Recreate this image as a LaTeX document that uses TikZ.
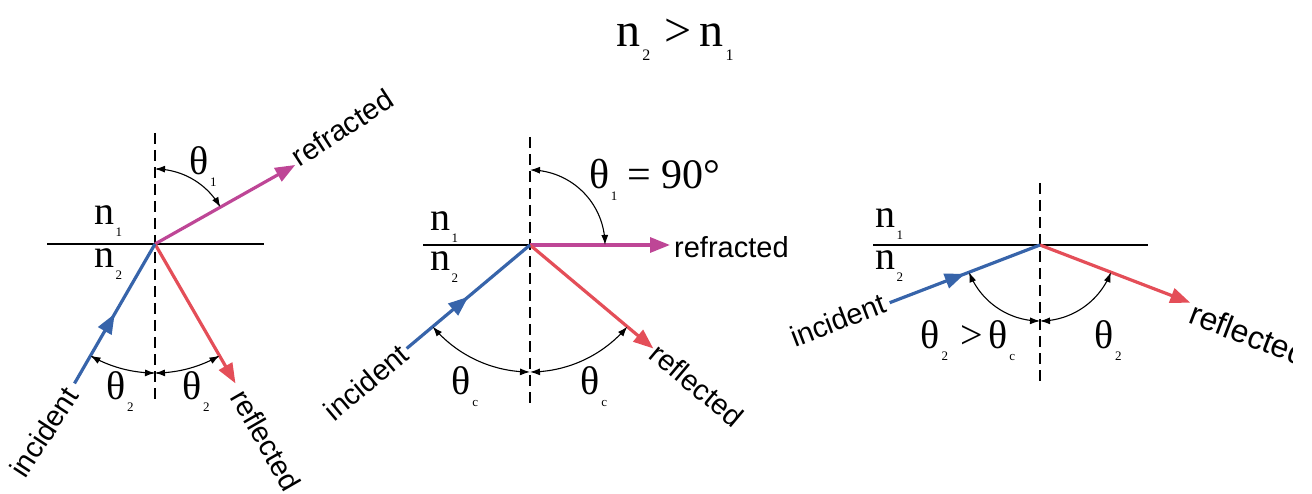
\documentclass[tikz,border=0pt]{standalone}
\usepackage{fontspec}
\setmainfont{Liberation Serif}
\newfontfamily\labelfont{Liberation Sans}
\usetikzlibrary{arrows.meta,decorations.markings,calc}
\definecolor{incblue}{RGB}{55,100,170}
\definecolor{refrmag}{RGB}{190,70,150}
\definecolor{reflred}{RGB}{228,78,88}
\newcommand{\sbs}[1]{\kern1.5pt\raisebox{-0.3em}{\fontsize{13}{13}\selectfont #1}}
\newcommand{\sbt}[1]{\kern2pt\raisebox{-0.3em}{\fontsize{16}{16}\selectfont #1}}
\begin{document}
\begin{tikzpicture}[x=1pt,y=-1pt,
  iface/.style={line width=2pt},
  normline/.style={line width=1.8pt,dash pattern=on 11pt off 6pt},
  ray/.style={line width=3.2pt},
  headtip/.style={-{Triangle[length=20pt,width=15pt]}},
  midtip/.style={postaction={decorate},decoration={markings,mark=at position 0.5 with {\arrow{Triangle[length=20pt,width=15pt]}}}},
  angarc/.style={line width=1.1pt,{Latex[length=10pt,width=7pt]}-{Latex[length=10pt,width=7pt]}},
  mathlab/.style={font=\fontsize{40}{40}\selectfont, inner sep=0pt},
  biglab/.style={font=\fontsize{42}{42}\selectfont, inner sep=0pt},
  titlelab/.style={font=\fontsize{48}{48}\selectfont, inner sep=0pt},
  lab/.style={font=\labelfont\fontsize{29}{29}\selectfont, inner sep=0pt}
]
\useasboundingbox (0,0) rectangle (1312,494);
\clip (0,0) rectangle (1312,494);

% title
\node[titlelab] (title) at (675,40) {n\sbt{2}\kern14pt>\kern8pt n\sbt{1}};

% ---------- panel 1 ----------
\coordinate (O1) at (155,244);
\coordinate (L1) at (47,244);
\coordinate (R1) at (264,244);
\coordinate (T1) at (155,133);
\coordinate (B1) at (155,405);
\coordinate (I1) at ($(O1)+(120:161)$);
\coordinate (F1) at ($(O1)+(-29.4:161)$);
\coordinate (E1) at ($(O1)+(60:161)$);
\draw[iface] (L1) -- (R1);
\draw[normline] (T1) -- (B1);
\draw[ray,refrmag,headtip] (O1) -- (F1);
\draw[ray,reflred,headtip] (O1) -- (E1);
\draw[ray,incblue,midtip] (I1) -- (O1);
\draw[angarc,shift={(O1)}] plot[domain=-90:-29.4,samples=40] (\x:75);
\draw[angarc,shift={(O1)}] plot[domain=120:90,samples=40] (\x:129);
\draw[angarc,shift={(O1)}] plot[domain=90:60,samples=40] (\x:129);
\node[mathlab] (n11) at (108,221) {n\sbs{1}};
\node[mathlab] (n12) at (108,264) {n\sbs{2}};
\node[mathlab] (th11) at (203,167) {θ\sbs{1}};
\node[mathlab] (th12) at (120,392) {θ\sbs{2}};
\node[mathlab] (th13) at (196,392) {θ\sbs{2}};
\node[lab,rotate=33,anchor=south west] (refr1) at (300,168) {refracted};
\node[lab,rotate=57] (inc1) at (44,432) {incident};
\node[lab,rotate=-60] (refl1) at (266,440) {reflected};

% ---------- panel 2 ----------
\coordinate (O2) at (530,245);
\coordinate (L2) at (423,245);
\coordinate (T2) at (530,137);
\coordinate (B2) at (530,407);
\coordinate (I2) at ($(O2)+(140:161)$);
\coordinate (F2) at (670,245);
\coordinate (E2) at ($(O2)+(40:161)$);
\draw[iface] (L2) -- (O2);
\draw[normline] (T2) -- (B2);
\draw[ray,refrmag,headtip] (O2) -- (F2);
\draw[ray,reflred,headtip] (O2) -- (E2);
\draw[ray,incblue,midtip] (I2) -- (O2);
\draw[angarc,shift={(O2)}] plot[domain=-90:0,samples=40] (\x:75);
\draw[angarc,shift={(O2)}] plot[domain=140:90,samples=40] (\x:127);
\draw[angarc,shift={(O2)}] plot[domain=90:40,samples=40] (\x:127);
\node[mathlab] (n21) at (444,227) {n\sbs{1}};
\node[mathlab] (n22) at (444,267) {n\sbs{2}};
\node[biglab,anchor=west] (th21) at (589,180) {θ\sbs{1}\kern10pt= 90°};
\node[mathlab] (th22) at (465,387) {θ\sbs{c}};
\node[mathlab] (th23) at (594,387) {θ\sbs{c}};
\node[lab,anchor=west] (refr2) at (674,247) {refracted};
\node[lab,rotate=40] (inc2) at (366,382) {incident};
\node[lab,rotate=-40] (refl2) at (697,385) {reflected};

% ---------- panel 3 ----------
\coordinate (O3) at (1040,245);
\coordinate (L3) at (873,245);
\coordinate (R3) at (1148,245);
\coordinate (T3) at (1040,183);
\coordinate (B3) at (1040,383);
\coordinate (I3) at ($(O3)+(159:161)$);
\coordinate (E3) at ($(O3)+(21:161)$);
\draw[iface] (L3) -- (R3);
\draw[normline] (T3) -- (B3);
\draw[ray,reflred,headtip] (O3) -- (E3);
\draw[ray,incblue,midtip] (I3) -- (O3);
\draw[angarc,shift={(O3)}] plot[domain=159:90,samples=40] (\x:76);
\draw[angarc,shift={(O3)}] plot[domain=90:21,samples=40] (\x:76);
\node[mathlab] (n31) at (889,224) {n\sbs{1}};
\node[mathlab] (n32) at (889,266) {n\sbs{2}};
\node[mathlab] (th31) at (968,341) {θ\sbs{2}\kern12pt>\kern6pt θ\sbs{c}};
\node[mathlab] (th32) at (1108,341) {θ\sbs{2}};
\node[lab,rotate=21] (inc3) at (838,320) {incident};
\begin{scope}
  \clip (0,0) rectangle (1292,494);
  \node[lab,font=\labelfont\fontsize{32}{32}\selectfont,rotate=-21,anchor=west] (refl3) at (1191,312) {reflected};
\end{scope}
\end{tikzpicture}
\end{document}
